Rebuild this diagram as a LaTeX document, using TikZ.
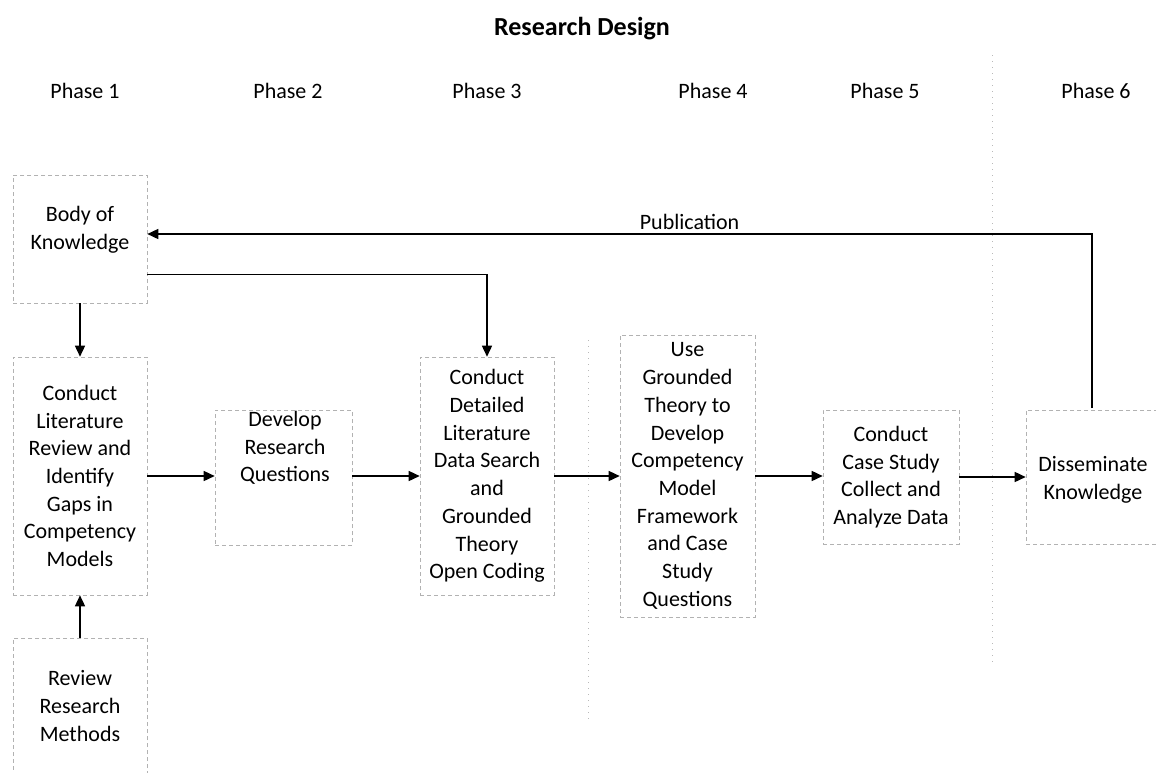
\documentclass[tikz,border=0pt]{standalone}
\usepackage{fontspec}
\setmainfont{Carlito}
\usetikzlibrary{arrows.meta}
\begin{document}
\begin{tikzpicture}[x=1pt,y=-1pt,
  txt/.style={font=\fontsize{22}{27.7}\selectfont, align=center, inner sep=0pt},
  box/.style 2 args={draw=gray!60, line width=0.6pt, dash pattern=on 4pt off 3pt,
     minimum width=#1pt, minimum height=#2pt, inner sep=0pt, align=center,
     font=\fontsize{22}{27.7}\selectfont},
  arr/.style={-{Triangle[length=11pt,width=10pt]}, line width=1.5pt},
  sep/.style={draw=gray!55, line width=0.5pt, dash pattern=on 1pt off 5pt}]
\clip (0,0) rectangle (1156,772);
\fill[white] (0,0) rectangle (1156,772);
% faint column separators
\draw[sep] (992,55) -- (992,665);
\draw[sep] (588,340) -- (588,720);
% title and phases
\node[txt, font=\fontsize{26}{30}\selectfont\bfseries] (title) at (582,29) {Research Design};
\node[txt] (p1) at (85,91) {Phase 1};
\node[txt] (p2) at (288,91) {Phase 2};
\node[txt] (p3) at (487,91) {Phase 3};
\node[txt] (p4) at (713,91) {Phase 4};
\node[txt] (p5) at (885,91) {Phase 5};
\node[txt] (p6) at (1096,91) {Phase 6};
% boxes
\node[box={134}{128}] (bok) at (80,239) {};
\node[txt] (bokt) at (80,230) {Body of\\Knowledge};
\node[box={134}{238}] (lit) at (80,476) {Conduct\\Literature\\Review and\\Identify\\Gaps in\\Competency\\Models};
\node[box={134}{136}] (rrm) at (80,706) {Review\\Research\\Methods};
\node[box={137}{135}] (dev) at (283.5,477.5) {};
\node[txt] (devt) at (285,448) {Develop\\Research\\Questions};
\node[box={134}{238}] (det) at (487,476) {Conduct\\Detailed\\Literature\\Data Search\\and\\Grounded\\Theory\\Open Coding};
\node[box={135}{282}] (use) at (687.5,476) {Use\\Grounded\\Theory to\\Develop\\Competency\\Model\\Framework\\and Case\\Study\\Questions};
\node[box={136}{134}] (cs) at (891,477) {Conduct\\Case Study\\Collect and\\Analyze Data};
\node[box={139}{134}] (dis) at (1095.5,477) {};
\node[txt] (dist) at (1093,480) {Disseminate\\Knowledge};
% connectors
\draw[arr] (bok.south) -- (lit.north);
\draw[arr] (rrm.north) -- (lit.south);
\draw[arr] ([yshift=29pt]bok.south east) -| (det.north);
\draw[arr] (lit.east) -- (lit.east -| dev.west);
\draw[arr] (dev.east |- det.east) -- (det.east -| det.west);
\draw[arr] (det.east) -- (use.west);
\draw[arr] (use.east) -- (use.east -| cs.west);
\draw[arr] (cs.east) -- (dis.west);
\coordinate (pubtop) at (1092,408);
\draw[arr] (pubtop) |- ([yshift=5pt]bok.east)
   node[pos=0.713, above=4pt, txt] (pub) {Publication};
\end{tikzpicture}
\end{document}
